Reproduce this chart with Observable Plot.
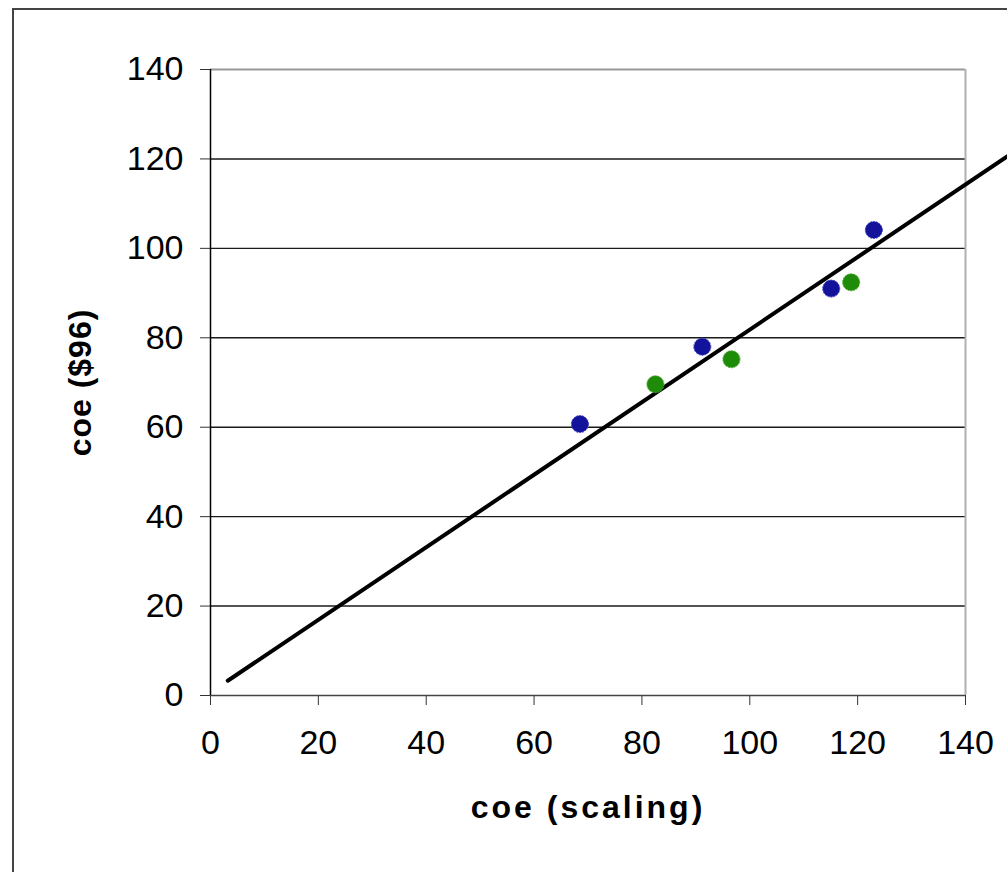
<!DOCTYPE html>
<html>
<head>
<meta charset="utf-8">
<script src="https://cdn.jsdelivr.net/npm/d3@7"></script>
<script src="https://cdn.jsdelivr.net/npm/@observablehq/plot@0.6"></script>
<style>
  html, body { margin: 0; padding: 0; background: #fff; overflow: hidden; }
  #wrap { position: relative; width: 1007px; height: 872px; }
  #border { position: absolute; left: 12px; top: 8px; width: 1100px; height: 1000px;
            border-left: 2px solid #444; border-top: 2px solid #444; pointer-events: none; }
</style>
</head>
<body>
<div id="wrap"><div id="border"></div></div>
<script>
// Series: blue points
const blueX = [68.5, 91.2, 115.1, 123.0];
const blueY = [60.7, 78.0, 91.0, 104.1];
// Series: green points
const greenX = [82.5, 96.6, 118.8];
const greenY = [69.6, 75.2, 92.4];
// Fitted line endpoints
const lineX = [3.2, 147.8];
const lineY = [3.3, 120.6];
// Ticks
const xTicks = [0, 20, 40, 60, 80, 100, 120, 140];
const yTicks = [0, 20, 40, 60, 80, 100, 120, 140];
const gridTicks = [20, 40, 60, 80, 100, 120];
const xTitle = "coe (scaling)";
const yTitle = "coe ($96)";

const blue = blueX.map((x, i) => ({x, y: blueY[i]}));
const green = greenX.map((x, i) => ({x, y: greenY[i]}));
const line = lineX.map((x, i) => ({x, y: lineY[i]}));

const chart = Plot.plot({
  width: 1007,
  height: 872,
  marginLeft: 210,
  marginRight: 42,
  marginTop: 69,
  marginBottom: 177,
  style: {fontFamily: "'Liberation Sans', Arial, sans-serif", fontSize: "34px", background: "transparent", overflow: "hidden"},
  x: {domain: [0, 140]},
  y: {domain: [0, 140]},
  marks: [
    Plot.gridY(gridTicks, {stroke: "#1a1a1a", strokeOpacity: 1, strokeWidth: 1.4}),
    Plot.ruleY([140], {stroke: "#999", strokeWidth: 2}),
    Plot.ruleX([140], {stroke: "#b0b0b0", strokeWidth: 2}),
    Plot.axisX(xTicks, {tickSize: 10, tickPadding: 24, label: null, stroke: "#333", fontSize: 34}),
    Plot.axisY(yTicks, {tickSize: 10, tickPadding: 17, label: null, stroke: "#333", fontSize: 34}),
    Plot.ruleY([0], {stroke: "#444", strokeWidth: 1.5}),
    Plot.ruleX([0], {stroke: "#000", strokeWidth: 1.5}),
    Plot.line(line, {x: "x", y: "y", stroke: "#000", strokeWidth: 4}),
    Plot.dot(blue, {x: "x", y: "y", r: 8.5, fill: "#12139a", stroke: "#3a3ab8", strokeWidth: 1, strokeDasharray: "2,1"}),
    Plot.dot(green, {x: "x", y: "y", r: 8.5, fill: "#1f8c09", stroke: "#49a832", strokeWidth: 1, strokeDasharray: "2,1"}),
    Plot.text([xTitle], {frameAnchor: "bottom", dy: 112, text: d => d, fontSize: 32, fontWeight: "bold", fill: "#000",
      textAnchor: "middle", lineAnchor: "middle"}),
    Plot.text([yTitle], {frameAnchor: "left", dx: -130, text: d => d, fontSize: 32, fontWeight: "bold", fill: "#000",
      rotate: -90, textAnchor: "middle", lineAnchor: "middle"})
  ]
});
d3.select(chart).selectAll("text").each(function() {
  const t = this.textContent;
  if (t === xTitle) this.style.letterSpacing = "3px";
  if (t === yTitle) this.style.letterSpacing = "1px";
});
chart.style.position = "absolute";
chart.style.left = "0";
chart.style.top = "0";
document.getElementById("wrap").prepend(chart);
</script>
</body>
</html>
